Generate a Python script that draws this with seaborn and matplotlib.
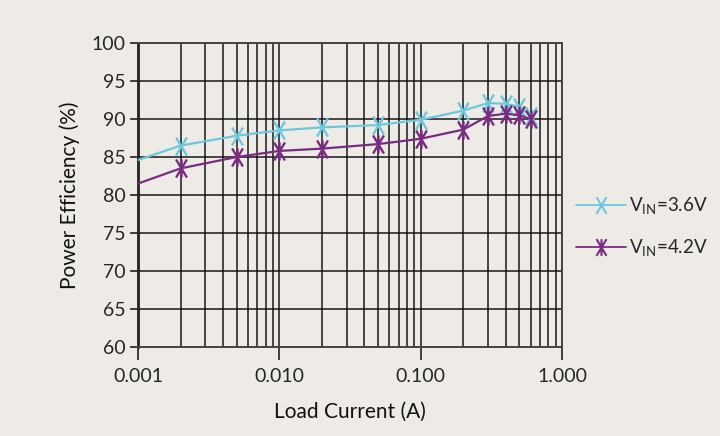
import matplotlib
matplotlib.use("Agg")
import matplotlib.pyplot as plt
import seaborn as sns
import numpy as np
from matplotlib.lines import Line2D
from matplotlib.path import Path
from matplotlib.ticker import FixedLocator

# ---- data ----
load_current = [0.001, 0.002, 0.005, 0.01, 0.02, 0.05, 0.1, 0.2, 0.3, 0.4, 0.5, 0.6]
eff_36 = [84.6, 86.5, 87.8, 88.5, 88.9, 89.2, 89.9, 91.1, 92.1, 92.0, 91.6, 90.4]
eff_42 = [81.5, 83.5, 85.0, 85.8, 86.1, 86.7, 87.4, 88.6, 90.4, 90.7, 90.5, 90.0]
series_labels = [r"V$_{\mathrm{IN}}$=3.6V", r"V$_{\mathrm{IN}}$=4.2V"]
x_ticks = [0.001, 0.01, 0.1, 1.0]
x_tick_labels = ["0.001", "0.010", "0.100", "1.000"]
y_ticks = [60, 65, 70, 75, 80, 85, 90, 95, 100]

BG = "#EEEBE7"
C36 = "#6CC8DC"
C42 = "#7A2C80"

sns.set_style("white")
plt.rcParams["font.family"] = ["Lato", "DejaVu Sans"]
plt.rcParams["mathtext.fontset"] = "custom"
plt.rcParams["mathtext.rm"] = "Lato"

# tall "x" and tall asterisk markers
M, L = Path.MOVETO, Path.LINETO
tall_x = Path([(-0.6, -1), (0.6, 1), (-0.6, 1), (0.6, -1)], [M, L, M, L])
tall_ast = Path([(-0.6, -1), (0.6, 1), (-0.6, 1), (0.6, -1), (0, -1), (0, 1)],
                [M, L, M, L, M, L])

fig = plt.figure(figsize=(7.2, 4.36), dpi=100, facecolor=BG)
ax = fig.add_axes([138/720, 1-347/436, (562-138)/720, (347-43)/436])
ax.set_facecolor(BG)

mk_idx = list(range(1, len(load_current)))
sns.lineplot(x=load_current, y=eff_36, ax=ax, color=C36, lw=1.6,
             marker=tall_x, markersize=13, markeredgewidth=1.7,
             markeredgecolor=C36, markerfacecolor=C36,
             markevery=mk_idx, legend=False, zorder=3)
sns.lineplot(x=load_current, y=eff_42, ax=ax, color=C42, lw=1.6,
             marker=tall_ast, markersize=13, markeredgewidth=1.7,
             markeredgecolor=C42, markerfacecolor=C42,
             markevery=mk_idx, legend=False, zorder=3)

ax.set_xscale("log")
ax.set_xlim(0.001, 1.0)
ax.set_ylim(60, 100)

# grid
minor = []
for d in [0.001, 0.01, 0.1]:
    for k in range(2, 10):
        minor.append(d*k)
for xv in minor + x_ticks:
    ax.axvline(xv, color="#111111", lw=1.25, alpha=0.85, zorder=0.5)
for yv in y_ticks:
    ax.axhline(yv, color="#111111", lw=1.25, alpha=0.85, zorder=0.5)

ax.xaxis.set_major_locator(FixedLocator(x_ticks))
ax.xaxis.set_minor_locator(FixedLocator([]))
ax.set_xticklabels(x_tick_labels)
ax.set_yticks(y_ticks)
ax.tick_params(axis="x", length=9, width=1.2, color="#222222", labelsize=14, pad=6, direction="out")
ax.tick_params(axis="y", length=6, width=1.2, color="#222222", labelsize=14, pad=3, direction="out")
ax.tick_params(bottom=True, left=True)

for s in ax.spines.values():
    s.set_color("#444444")
    s.set_linewidth(1.4)
ax.spines["left"].set_linewidth(2.0)
ax.spines["left"].set_color("#222222")

ax.set_xlabel("Load Current (A)", fontsize=15, labelpad=12, color="#111111")
ax.set_ylabel("Power Efficiency (%)", fontsize=15, labelpad=8, color="#111111")

handles = [
    Line2D([], [], color=C36, lw=1.3, marker=tall_x, markersize=12, markeredgewidth=1.5),
    Line2D([], [], color=C42, lw=1.3, marker=tall_ast, markersize=12, markeredgewidth=1.5),
]
fig.legend(handles, series_labels, loc="upper left",
           bbox_to_anchor=(568/720, 1-188/436), frameon=False,
           handlelength=2.7, handletextpad=0.15, labelspacing=1.1,
           fontsize=13.5, borderaxespad=0)

fig.savefig("out.png", dpi=100, facecolor=BG)
